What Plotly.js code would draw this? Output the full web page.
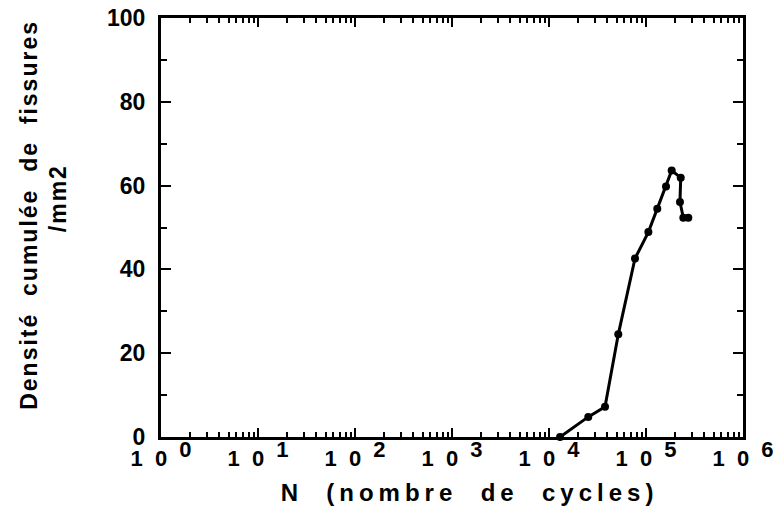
<!DOCTYPE html>
<html>
<head>
<meta charset="utf-8">
<script src="https://cdn.plot.ly/plotly-3.0.1.min.js"></script>
<style>
  html, body { margin: 0; padding: 0; background: #fff; }
  #chart { width: 776px; height: 517px; }
</style>
</head>
<body>
<div id="chart"></div>
<script>
// Cumulative crack density versus number of cycles
const cycles = [13000, 25400, 37800, 51800, 77000, 105800, 130700, 160800, 184000, 228000, 224000, 242500, 273000];
const density = [0, 4.8, 7.2, 24.5, 42.6, 48.9, 54.5, 59.8, 63.6, 61.9, 56.1, 52.3, 52.3];

const decadeVals = [1, 10, 100, 1000, 10000, 100000, 1000000];
const decadeExps = ['0', '1', '2', '3', '4', '5', '6'];
const densityTicks = [0, 20, 40, 60, 80, 100];

const nb = (n) => '\u00a0'.repeat(n);
const sp = nb(2);
// exponent drawn at full size, raised above the baseline
const decadeText = decadeExps.map(e =>
  '1' + sp + '0' + sp + '<sup><span style="font-size:22px">' + e + '</span></sup>');

const fontFam = 'Liberation Sans, Arial, sans-serif';
const boldFont = (size) => ({ family: fontFam, size: size, color: '#000', weight: 'bold' });

const trace = {
  x: cycles,
  y: density,
  mode: 'lines+markers',
  type: 'scatter',
  line: { color: '#000', width: 3 },
  marker: { color: '#000', size: 8 },
  cliponaxis: false,
  showlegend: false
};

const layout = {
  width: 776,
  height: 517,
  margin: { l: 161, r: 33, t: 18, b: 80 },
  paper_bgcolor: '#fff',
  plot_bgcolor: '#fff',
  font: { family: fontFam, color: '#000', size: 22 },
  xaxis: {
    type: 'log',
    range: [0, 6],
    tickvals: decadeVals,
    ticktext: decadeText,
    ticks: 'inside',
    ticklen: 9,
    tickwidth: 2,
    tickcolor: '#000',
    minor: { ticks: 'inside', ticklen: 5, tickwidth: 2, tickcolor: '#000', dtick: 'D1', showgrid: false },
    showline: true,
    linewidth: 3,
    linecolor: '#000',
    mirror: 'ticks',
    showgrid: false,
    zeroline: false,
    ticklabelstandoff: 0,
    tickfont: boldFont(22),
    title: {
      text: '<span style="letter-spacing:5px">' + nb(3) + 'N' + sp + '(nombre' + sp + 'de' + sp + 'cycles)</span>',
      font: boldFont(24),
      standoff: 14
    }
  },
  yaxis: {
    range: [0, 100],
    tickvals: densityTicks,
    ticktext: densityTicks.map(String),
    ticks: 'inside',
    ticklen: 10,
    tickwidth: 2,
    tickcolor: '#000',
    minor: { ticks: 'inside', ticklen: 6, tickwidth: 2, tickcolor: '#000', dtick: 10, showgrid: false },
    showline: true,
    linewidth: 3,
    linecolor: '#000',
    mirror: 'ticks',
    showgrid: false,
    zeroline: false,
    ticklabelstandoff: 8,
    tickfont: boldFont(23),
    title: {
      text: '<span style="letter-spacing:2px">' + nb(3) + 'Densité' + sp + 'cumulée' + sp + 'de' + sp + 'fissures</span><br>' +
            '<span style="letter-spacing:2px">' + nb(7) + '/mm2</span>',
      font: boldFont(23),
      standoff: 34
    }
  }
};

Plotly.newPlot('chart', [trace], layout, { displayModeBar: false, staticPlot: true });
</script>
</body>
</html>
